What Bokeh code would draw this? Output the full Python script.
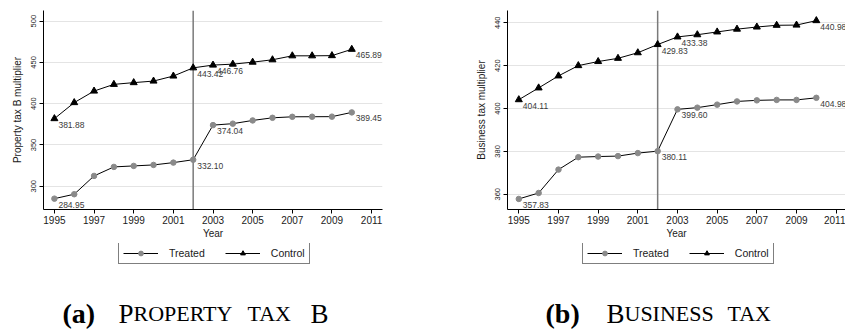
from bokeh.plotting import figure
from bokeh.models import Range1d, Span, Legend, LegendItem, FixedTicker, ColumnDataSource
from bokeh.layouts import row, column
from bokeh.embed import file_html
from bokeh.resources import INLINE
from bokeh.core.properties import value

# ---------------- data ----------------
years = list(range(1995, 2011))
prop_treated = [284.95, 290.3, 312.5, 323.4, 324.6, 325.8, 328.6, 332.10,
                374.04, 375.8, 379.7, 382.9, 384.1, 384.2, 384.3, 389.45]
prop_control = [381.88, 401.3, 415.3, 423.4, 425.5, 427.4, 433.5, 443.42,
                446.76, 447.9, 450.3, 453.2, 458.0, 458.0, 458.2, 465.89]
bus_treated = [357.83, 360.6, 371.5, 377.3, 377.6, 377.8, 379.2, 380.11,
               399.60, 400.4, 401.8, 403.3, 403.8, 404.0, 404.0, 404.98]
bus_control = [404.11, 409.6, 415.2, 420.0, 421.9, 423.4, 426.0, 429.83,
               433.38, 434.4, 435.7, 437.0, 438.0, 438.8, 438.9, 440.98]
labeled_years = [1995, 2002, 2003, 2010]
treatment_year = 2002
x_ticks = [1995, 1997, 1999, 2001, 2003, 2005, 2007, 2009, 2011]
prop_y_ticks = [300, 350, 400, 450, 500]
bus_y_ticks = [360, 380, 400, 420, 440]
series_names = ["Treated", "Control"]

SANS = "Liberation Sans"
SERIF = "Liberation Serif"

PANEL_H = 243
LEG_H = 23
CAP_H = 66
TOTAL_W = 845
A_W = 420
B_W = TOTAL_W - A_W

TREATED_STYLE = dict(marker="circle", size=5.5, fill_color="#8a8a8a", line_color="#8a8a8a")
CONTROL_STYLE = dict(marker="triangle", size=7, fill_color="black", line_color="black")


def panel(treated, control, ylabel, y_ticks, y_rng, x_rng, width, left, right):
    p = figure(width=width, height=PANEL_H,
               x_range=Range1d(*x_rng), y_range=Range1d(*y_rng),
               output_backend="svg", toolbar_location=None,
               min_border_left=left, min_border_right=right,
               min_border_top=10, min_border_bottom=34)
    p.outline_line_color = None
    p.background_fill_color = "white"
    p.border_fill_color = "white"

    p.xgrid.visible = False
    p.ygrid.grid_line_color = "#e4e4e4"
    p.ygrid.grid_line_width = 1
    p.ygrid.ticker = FixedTicker(ticks=y_ticks)

    xa = p.xaxis[0]
    xa.ticker = FixedTicker(ticks=x_ticks)
    xa.axis_line_color = "black"
    xa.major_tick_line_color = "black"
    xa.major_tick_in = 0
    xa.major_tick_out = 4
    xa.minor_tick_line_color = None
    xa.major_label_text_font = SANS
    xa.major_label_text_font_size = "10px"
    xa.major_label_text_color = "#1a1a1a"
    xa.major_label_standoff = 2
    xa.axis_label = "Year"
    xa.axis_label_text_font = SANS
    xa.axis_label_text_font_size = "10px"
    xa.axis_label_text_font_style = "normal"
    xa.axis_label_text_color = "#1a1a1a"
    xa.axis_label_standoff = 1

    ya = p.yaxis[0]
    ya.ticker = FixedTicker(ticks=y_ticks)
    ya.axis_line_color = "black"
    ya.major_tick_line_color = "black"
    ya.major_tick_in = 0
    ya.major_tick_out = 4
    ya.minor_tick_line_color = None
    ya.major_label_orientation = "vertical"
    ya.major_label_text_font = SANS
    ya.major_label_text_font_size = "7.5px"
    ya.major_label_text_color = "#1a1a1a"
    ya.major_label_standoff = 3
    ya.axis_label = ylabel
    ya.axis_label_text_font = SANS
    ya.axis_label_text_font_size = "10px"
    ya.axis_label_text_font_style = "normal"
    ya.axis_label_text_color = "#1a1a1a"
    ya.axis_label_standoff = 6

    span = Span(location=treatment_year, dimension="height",
                line_color="#7a7a7a", line_width=1.5, level="underlay")
    p.add_layout(span)

    src = ColumnDataSource(dict(year=years, treated=treated, control=control))
    p.line("year", "treated", source=src, line_color="black", line_width=1)
    p.scatter("year", "treated", source=src, **TREATED_STYLE)
    p.line("year", "control", source=src, line_color="black", line_width=1)
    p.scatter("year", "control", source=src, **CONTROL_STYLE)

    lx, ly, lt_txt = [], [], []
    for series in (treated, control):
        for yr in labeled_years:
            v = series[years.index(yr)]
            lx.append(yr)
            ly.append(v)
            lt_txt.append(f"{v:.2f}")
    lab = ColumnDataSource(dict(x=lx, y=ly, t=lt_txt))
    p.text("x", "y", text="t", source=lab, x_offset=4, y_offset=6,
           text_baseline="middle", text_align="left",
           text_font=value(SANS), text_font_size="8.5px", text_color="#3a3a3a")
    return p


pA = panel(prop_treated, prop_control, "Property tax B multiplier", prop_y_ticks,
           (271.8, 512.9), (1994.45, 2011.55), A_W, 43, 38)
pB = panel(bus_treated, bus_control, "Business tax multiplier", bus_y_ticks,
           (352.9, 445.7), (1994.43, 2011.47), B_W, 87, 0)

# ---------------- legend strip (one legend under each panel) ----------------
# The strip's renderers use the real series but lie outside its view, so only
# the legend entries are seen.
leg = figure(width=TOTAL_W, height=LEG_H, x_range=Range1d(0, 1), y_range=Range1d(0, 1),
             output_backend="svg", toolbar_location=None, min_border=0,
             x_axis_location=None, y_axis_location=None)
leg.grid.visible = False
leg.outline_line_color = None
strip_src = ColumnDataSource(dict(year=years, treated=prop_treated, control=prop_control))
rt_l = leg.line("year", "treated", source=strip_src, line_color="black", line_width=1)
rt_s = leg.scatter("year", "treated", source=strip_src, **TREATED_STYLE)
rc_l = leg.line("year", "control", source=strip_src, line_color="black", line_width=1)
rc_s = leg.scatter("year", "control", source=strip_src, **CONTROL_STYLE)

for lx0 in (118, 582):
    lg = Legend(items=[LegendItem(label=series_names[0], renderers=[rt_l, rt_s]),
                       LegendItem(label=series_names[1], renderers=[rc_l, rc_s])],
                orientation="horizontal", location=(lx0, 2),
                glyph_width=35, glyph_height=12, label_height=12,
                label_standoff=11, spacing=20, padding=4, margin=0,
                border_line_color="black", border_line_width=1,
                background_fill_color="white", background_fill_alpha=1,
                label_text_font=SANS, label_text_font_size="10.5px",
                label_text_color="#1a1a1a")
    leg.add_layout(lg, "center")

# ---------------- captions (small caps built from two sizes) ----------------
top_y = PANEL_H + LEG_H
cap = figure(width=TOTAL_W, height=CAP_H, x_range=Range1d(0, TOTAL_W),
             y_range=Range1d(top_y + CAP_H, top_y), output_backend="svg",
             toolbar_location=None, min_border=0,
             x_axis_location=None, y_axis_location=None)
cap.grid.visible = False
cap.outline_line_color = None

base = 313
bold_src = ColumnDataSource(dict(x=[62, 545], y=[base, base], t=["(a)", "(b)"]))
cap.text("x", "y", text="t", source=bold_src, text_font=value(SERIF),
         text_font_style="bold", text_font_size="28px", text_color="black",
         text_baseline="alphabetic", text_align="left")
big_src = ColumnDataSource(dict(x=[118, 310, 606], y=[base] * 3, t=["P", "B", "B"]))
cap.text("x", "y", text="t", source=big_src, text_font=value(SERIF),
         text_font_size="27px", text_color="black",
         text_baseline="alphabetic", text_align="left")
small_src = ColumnDataSource(dict(x=[133, 247, 624, 727], y=[base] * 4,
                                  t=["ROPERTY", "TAX", "USINESS", "TAX"]))
cap.text("x", "y", text="t", source=small_src, text_font=value(SERIF),
         text_font_size="22px", text_color="black",
         text_baseline="alphabetic", text_align="left")

layout = column(row(pA, pB, spacing=0), leg, cap, spacing=0)
open("out.html", "w").write(file_html(layout, INLINE))
